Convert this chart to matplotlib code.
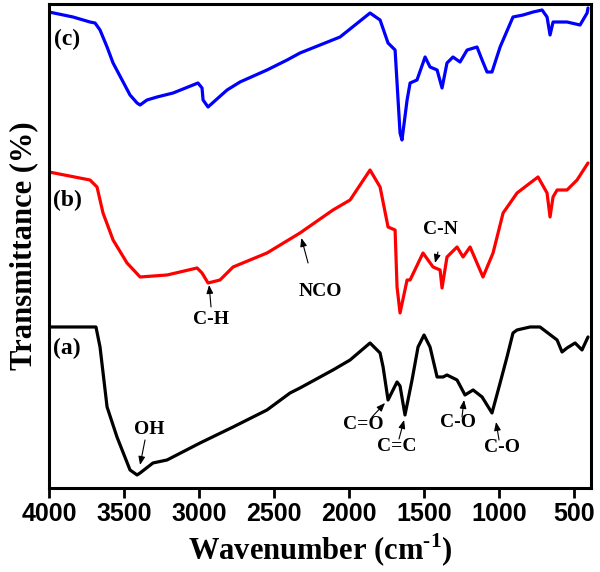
import matplotlib
matplotlib.use("Agg")
import matplotlib.pyplot as plt

# ---- data (wavenumber cm-1, transmittance in arbitrary offset units) ----
wn_a = [4000, 3687, 3660, 3613, 3547, 3460, 3413, 3393, 3307, 3213, 2993, 2773, 2547,
        2393, 2327, 2107, 1993, 1860, 1793, 1773, 1740, 1680, 1660, 1627, 1580, 1540,
        1500, 1460, 1413, 1373, 1347, 1280, 1227, 1173, 1113, 1047, 993, 947, 907, 880,
        793, 727, 613, 580, 547, 493, 447, 407]
tr_a = [161, 161, 141, 81, 51, 18, 13, 15, 25, 28, 45, 61, 78,
        95, 100, 118, 128, 145, 135, 121, 88, 106, 102, 73, 108, 141,
        153, 141, 111, 111, 113, 108, 93, 98, 91, 75, 105, 131, 155, 158,
        161, 161, 148, 136, 140, 145, 138, 151]

wn_b = [4000, 3727, 3680, 3640, 3573, 3480, 3393, 3213, 3013, 2980, 2940, 2860, 2773,
        2547, 2327, 2107, 1993, 1860, 1793, 1740, 1693, 1680, 1660, 1613, 1593, 1507,
        1440, 1393, 1380, 1347, 1280, 1240, 1193, 1107, 1040, 973, 880, 793, 740, 680,
        660, 640, 613, 547, 480, 407]
tr_b = [316, 308, 301, 275, 248, 225, 211, 213, 220, 215, 205, 208, 221,
        235, 255, 278, 288, 318, 301, 261, 258, 201, 175, 208, 208, 235,
        221, 218, 200, 231, 241, 231, 241, 211, 235, 275, 295, 305, 311, 295,
        271, 291, 298, 298, 308, 325]

wn_c = [4000, 3840, 3727, 3693, 3660, 3613, 3573, 3513, 3460, 3413, 3393, 3347, 3280,
        3173, 3040, 3007, 2980, 2973, 2940, 2873, 2813, 2727, 2547, 2413, 2327, 2060,
        1860, 1793, 1740, 1693, 1660, 1647, 1613, 1593, 1547, 1493, 1460, 1413, 1380,
        1347, 1307, 1260, 1213, 1147, 1113, 1080, 1047, 993, 907, 840, 773, 713, 680,
        660, 640, 547, 460, 413, 407]
tr_c = [476, 471, 466, 465, 458, 441, 425, 408, 393, 385, 383, 388, 391,
        395, 403, 405, 400, 388, 381, 390, 398, 406, 418, 428, 435, 451,
        475, 468, 445, 438, 355, 348, 388, 405, 408, 431, 421, 418, 400,
        425, 431, 426, 438, 441, 428, 416, 416, 441, 471, 473, 476, 478, 471,
        453, 466, 466, 463, 475, 480]

x_ticks = [4000, 3500, 3000, 2500, 2000, 1500, 1000, 500]

SERIF = "Liberation Serif"
SANS = "Liberation Sans"
plt.rcParams["mathtext.fontset"] = "custom"
plt.rcParams["mathtext.rm"] = "Liberation Serif:bold"
plt.rcParams["mathtext.bf"] = "Liberation Serif:bold"

fig = plt.figure(figsize=(6.0, 5.72), dpi=100)
ax = fig.add_axes([0.0817, 0.1469, 0.9033, 0.8461])

lw = 2.3
for wn, tr, col in [(wn_a, tr_a, "black"), (wn_b, tr_b, "#ff0000"), (wn_c, tr_c, "#0000ff")]:
    ax.plot(wn, tr, color=col, lw=lw, solid_joinstyle="round", solid_capstyle="round")

ax.set_xlim(4000, 387)
ax.set_ylim(0, 484)
ax.set_xticks(x_ticks)
ax.set_xticklabels([str(t) for t in x_ticks], fontfamily=SANS, fontweight="bold", fontsize=18)
ax.set_yticks([])
ax.tick_params(axis="x", direction="out", length=7, width=2, pad=3, top=False)
for s in ax.spines.values():
    s.set_linewidth(2.2)

ax.set_xlabel(r"Wavenumber (cm$^{\text{-1}}$)", fontfamily=SERIF, fontweight="bold",
              fontsize=22, labelpad=4)
ax.set_ylabel("Transmittance (%)", fontfamily=SERIF, fontweight="bold", fontsize=22,
              labelpad=8)

# curve labels
for lab, y in [("(c)", 449), ("(b)", 288), ("(a)", 140)]:
    ax.text(3880, y, lab, fontfamily=SERIF, fontweight="bold", fontsize=17,
            ha="center", va="center")

# peak annotations: (text, text_xy, arrow_tail, arrow_tip)
ann = [
    ("C-H", (2920, 168), (2920, 181), (2933, 203)),
    ("NCO", (2193, 196), (2273, 225), (2318, 250)),
    ("C-N", (1393, 258), (1407, 236), (1427, 225)),
    ("OH", (3333, 58), (3360, 48), (3393, 23)),
    ("C=O", (1907, 63), (1847, 71), (1760, 85)),
    ("C=C", (1680, 41), (1667, 49), (1633, 68)),
    ("C-O", (1273, 65), (1247, 71), (1233, 88)),
    ("C-O", (980, 40), (1000, 48), (1020, 66)),
]
for txt, txy, tail, tip in ann:
    ax.text(txy[0], txy[1], txt, fontfamily=SERIF, fontweight="bold", fontsize=14,
            ha="center", va="center")
    ax.annotate("", xy=tip, xytext=tail,
                arrowprops=dict(arrowstyle="-|>,head_length=0.5,head_width=0.2",
                                color="black", lw=0.8, shrinkA=0, shrinkB=0))

fig.savefig("out.png", dpi=100)
